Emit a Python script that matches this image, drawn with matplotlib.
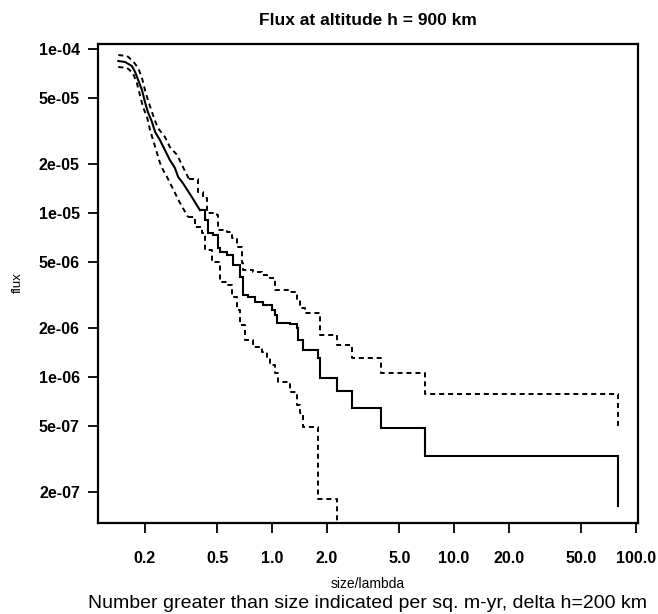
import matplotlib
matplotlib.use("Agg")
import matplotlib.pyplot as plt
from matplotlib import font_manager
from matplotlib.ticker import FixedLocator, FixedFormatter, NullLocator

plt.rcParams['font.family'] = ['Liberation Sans', 'DejaVu Sans']

# Estimated flux (solid) and upper / lower bounds (dashed), step curves
size_mid = [0.143, 0.156, 0.170, 0.177, 0.184, 0.193, 0.2005, 0.208, 0.219, 0.228,
            0.242, 0.258, 0.275, 0.293, 0.305, 0.324, 0.363, 0.402, 0.4285, 0.445,
            0.474, 0.505, 0.518, 0.566, 0.6105, 0.667, 0.693, 0.738, 0.806, 0.892,
            1.0, 1.039, 1.065, 1.256, 1.372, 1.389, 1.48, 1.789, 1.835, 2.275,
            2.752, 3.97, 6.93, 79.6]
flux_mid = [8.45e-5, 8.33e-5, 7.87e-5, 7.24e-5, 6.47e-5, 5.62e-5, 4.75e-5, 4.13e-5, 3.59e-5, 3.12e-5,
            2.79e-5, 2.42e-5, 2.10e-5, 1.88e-5, 1.66e-5, 1.52e-5, 1.25e-5, 1.04e-5, 9.06e-6, 7.55e-6,
            7.34e-6, 6.12e-6, 5.78e-6, 5.54e-6, 4.82e-6, 4.07e-6, 3.16e-6, 3.08e-6, 2.87e-6, 2.75e-6,
            2.56e-6, 2.39e-6, 2.13e-6, 2.10e-6, 1.99e-6, 1.68e-6, 1.46e-6, 1.31e-6, 9.8e-7, 8.22e-7,
            6.47e-7, 4.89e-7, 3.30e-7, 1.63e-7]

size_up = [0.143, 0.160, 0.172, 0.184, 0.193, 0.2005, 0.208, 0.219, 0.228, 0.236,
           0.258, 0.275, 0.301, 0.324, 0.350, 0.392, 0.418, 0.4395, 0.4985, 0.505,
           0.566, 0.603, 0.642, 0.684, 0.693, 0.786, 0.881, 0.939, 1.039, 1.256,
           1.372, 1.425, 1.518, 1.835, 2.275, 2.752, 3.97, 6.93, 79.6]
flux_up = [9.19e-5, 9.06e-5, 8.45e-5, 7.66e-5, 6.65e-5, 5.62e-5, 4.89e-5, 4.13e-5, 3.64e-5, 3.30e-5,
           2.91e-5, 2.52e-5, 2.26e-5, 1.91e-5, 1.61e-5, 1.34e-5, 1.23e-5, 1.0e-5, 9.72e-6, 7.88e-6,
           7.66e-6, 7.04e-6, 6.21e-6, 4.96e-6, 4.49e-6, 4.37e-6, 4.19e-6, 4.02e-6, 3.39e-6, 3.30e-6,
           2.95e-6, 2.64e-6, 2.46e-6, 1.80e-6, 1.57e-6, 1.31e-6, 1.06e-6, 7.88e-7, 4.89e-7]

size_low = [0.143, 0.160, 0.172, 0.181, 0.188, 0.1955, 0.2057, 0.2137, 0.222, 0.2335,
            0.2424, 0.252, 0.2649, 0.2823, 0.3124, 0.3455, 0.3775, 0.4124, 0.4285, 0.468,
            0.518, 0.566, 0.603, 0.642, 0.667, 0.7105, 0.786, 0.881, 0.939, 0.975,
            1.039, 1.079, 1.256, 1.372, 1.425, 1.48, 1.789, 2.275]
flux_low = [7.77e-5, 7.66e-5, 7.14e-5, 6.20e-5, 5.25e-5, 4.43e-5, 3.85e-5, 3.21e-5, 2.79e-5, 2.32e-5,
            2.02e-5, 1.83e-5, 1.66e-5, 1.44e-5, 1.15e-5, 9.46e-6, 8.22e-6, 7.55e-6, 5.94e-6, 5.03e-6,
            3.80e-6, 3.64e-6, 3.08e-6, 2.56e-6, 2.07e-6, 1.68e-6, 1.52e-6, 1.42e-6, 1.31e-6, 1.18e-6,
            1.06e-6, 9.33e-7, 8.11e-7, 6.75e-7, 6.03e-7, 4.95e-7, 1.80e-7, 1.0e-7]

x_ticks = [0.2, 0.5, 1.0, 2.0, 5.0, 10.0, 20.0, 50.0, 100.0]
x_labels = ["0.2", "0.5", "1.0", "2.0", "5.0", "10.0", "20.0", "50.0", "100.0"]
y_ticks = [1e-4, 5e-5, 2e-5, 1e-5, 5e-6, 2e-6, 1e-6, 5e-7, 2e-7]
y_labels = ["1e-04", "5e-05", "2e-05", "1e-05", "5e-06", "2e-06", "1e-06", "5e-07", "2e-07"]

fig = plt.figure(figsize=(6.58, 6.14), dpi=100)
ax = fig.add_axes([98/658, 1-523/614, 540/658, 479/614])


def draw_curve(xs, ys, n_dense, **kw):
    # dense (many tiny steps) head drawn as a continuous line, tail as steps
    ax.plot(xs[:n_dense + 1], ys[:n_dense + 1], color='black', **kw)
    ax.plot(xs[n_dense:], ys[n_dense:], drawstyle='steps-post', color='black', **kw)


dash = dict(lw=1.4, linestyle=(0, (2.6, 2.0)))
draw_curve(size_mid, flux_mid, 17, lw=1.5, solid_joinstyle='miter')
draw_curve(size_up, flux_up, 14, **dash)
draw_curve(size_low, flux_low, 15, **dash)

ax.set_xscale('log')
ax.set_yscale('log')
ax.set_xlim(10**-0.956, 10**2.011)
ax.set_ylim(10**-6.890, 10**-3.9695)

ax.xaxis.set_major_locator(FixedLocator(x_ticks))
ax.xaxis.set_major_formatter(FixedFormatter(x_labels))
ax.xaxis.set_minor_locator(NullLocator())
ax.yaxis.set_major_locator(FixedLocator(y_ticks))
ax.yaxis.set_major_formatter(FixedFormatter(y_labels))
ax.yaxis.set_minor_locator(NullLocator())

ax.tick_params(axis='both', direction='out', length=7, width=1.3, color='black')
ax.tick_params(axis='x', pad=13, labelsize=11.5)
ax.tick_params(axis='y', pad=6, labelsize=11.5)
for lab in ax.get_xticklabels() + ax.get_yticklabels():
    lab.set_fontweight('bold')

for sp in ax.spines.values():
    sp.set_linewidth(1.6)

narrow_ok = any('Liberation Sans Narrow' == f.name for f in font_manager.fontManager.ttflist)
if narrow_ok:
    ax.set_title("Flux at altitude h = 900 km", fontsize=15, fontweight='bold', pad=12,
                 family=['Liberation Sans Narrow', 'Liberation Sans'])
else:
    ax.set_title("Flux at altitude h = 900 km", fontsize=12.5, fontweight='bold', pad=14)
fig.text(18/658, 1-283/614, "flux", rotation=90, ha='center', va='center', fontsize=9.5)
fig.text(368/658, 1-584/614, "size/lambda", ha='center', va='center', fontsize=10)
fig.text(368/658, 1-603/614, "Number greater than size indicated per sq. m-yr, delta h=200 km",
         ha='center', va='center', fontsize=14)

fig.savefig("out.png", dpi=100)
